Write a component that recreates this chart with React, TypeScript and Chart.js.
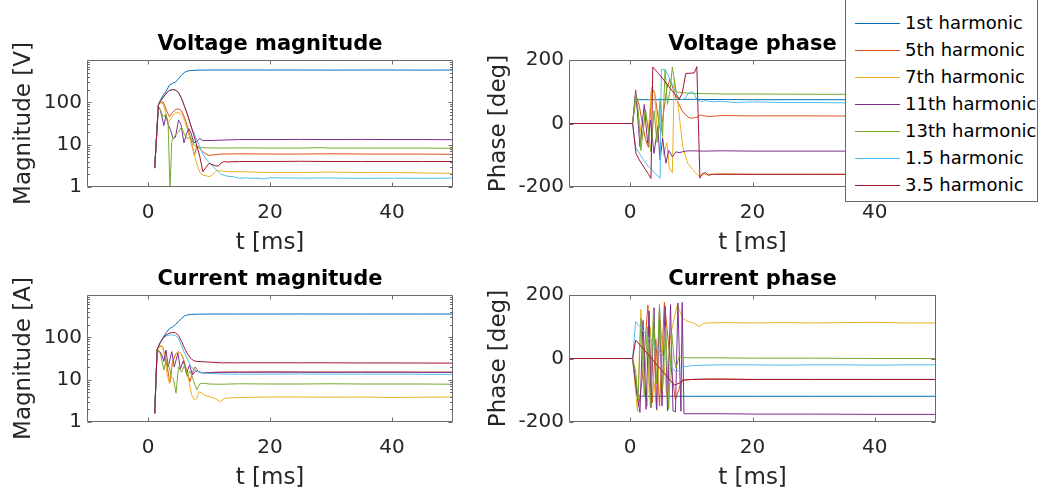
import React, { useEffect, useRef } from 'react';
import { Chart, registerables } from 'chart.js';

Chart.register(...registerables);

type Pt = [number, number];

// ---------- labels / ticks ----------
const SERIES_NAMES = ['1st harmonic', '5th harmonic', '7th harmonic', '11th harmonic', '13th harmonic', '1.5 harmonic', '3.5 harmonic'];
const SERIES_COLORS = ['#0072BD', '#D95319', '#EDB120', '#7E2F8E', '#77AC30', '#4DBEEE', '#A2142F'];
const X_TICKS = [0, 20, 40];
const MAG_TICKS = [1, 10, 100];
const PHASE_TICKS = [-200, 0, 200];

// ---------- Voltage magnitude [V] (t in ms, value) ----------
const VMAG_1: Pt[] = [[1.1, 2.8], [1.7, 88], [2.0, 110], [2.5, 150], [3.0, 185], [3.5, 255], [4.0, 280], [4.5, 300], [5.0, 360], [5.5, 440], [6.0, 510], [6.5, 550], [7.0, 565], [8.0, 575], [10, 580], [15, 580], [20, 580], [25, 580], [30, 578], [35, 580], [40, 580], [45, 578], [50, 580]];
const VMAG_5: Pt[] = [[1.1, 2.8], [1.7, 88], [2.0, 100], [2.5, 102], [3.0, 66], [3.5, 46], [4.0, 57], [4.5, 68], [5.0, 70], [5.5, 63], [6.0, 44], [6.5, 26], [7.0, 14], [7.6, 5.5], [8.0, 9.5], [8.5, 8], [9.0, 6.8], [9.5, 6.0], [10, 5.6], [11, 5.8], [12, 6.0], [15, 6.1], [20, 6.0], [25, 6.0], [30, 6.1], [35, 6.0], [40, 6.0], [45, 6.0], [50, 5.9]];
const VMAG_7: Pt[] = [[1.1, 2.8], [1.7, 88], [2.0, 97], [2.5, 92], [3.0, 50], [3.3, 33], [3.6, 38], [4.0, 48], [4.5, 56], [5.0, 57], [5.5, 52], [6.0, 38], [6.5, 22], [7.0, 12], [7.5, 6.5], [8.0, 3.5], [8.5, 2.2], [9.0, 1.9], [9.5, 1.85], [10.0, 1.75], [10.5, 1.9], [11.0, 2.3], [11.5, 2.5], [12.0, 2.4], [13, 2.3], [15, 2.3], [20, 2.2], [25, 2.2], [30, 2.25], [35, 2.2], [40, 2.2], [45, 2.15], [50, 2.1]];
const VMAG_11: Pt[] = [[1.1, 2.8], [1.7, 80], [2.0, 68], [2.3, 45], [2.6, 28], [2.95, 50], [3.3, 30], [3.7, 22], [4.1, 14], [4.5, 15], [5.0, 38], [5.4, 30], [5.9, 11], [6.3, 18], [6.7, 24], [7.1, 18], [7.5, 11], [8.0, 12], [8.5, 14], [9.0, 12.5], [10, 12.5], [12, 12.8], [15, 13.2], [20, 13.2], [25, 13.3], [30, 13.2], [35, 13.3], [40, 13.2], [45, 13.2], [50, 13.1]];
const VMAG_13: Pt[] = [[1.1, 2.8], [1.7, 80], [2.0, 66], [2.5, 45], [2.9, 52], [3.3, 30], [3.6, 0.9], [3.9, 12], [4.5, 17], [5.0, 20], [5.5, 26], [6.0, 17], [6.5, 14], [7.0, 15], [7.5, 10], [8.0, 9], [8.5, 8.6], [9.5, 8.4], [12, 8.3], [15, 8.4], [20, 8.3], [25, 8.3], [28, 8.5], [30, 8.3], [35, 8.3], [40, 8.3], [45, 8.3], [50, 8.2]];
const VMAG_15: Pt[] = [[1.1, 2.8], [1.7, 85], [2.0, 105], [2.5, 130], [3.0, 165], [3.5, 190], [4.0, 200], [4.5, 195], [5.0, 170], [5.5, 124], [6.0, 79], [6.5, 50], [7.0, 29], [7.5, 19], [8.0, 13], [8.5, 9], [9.0, 6], [9.5, 4.6], [10, 3.8], [10.5, 3.3], [11, 2.7], [11.5, 2.3], [12, 2.0], [12.5, 1.9], [13, 1.8], [14, 1.75], [15, 1.6], [16, 1.65], [17, 1.6], [18, 1.62], [19, 1.55], [20, 1.65], [25, 1.62], [30, 1.63], [35, 1.6], [40, 1.62], [45, 1.6], [50, 1.62]];
const VMAG_35: Pt[] = [[1.1, 2.8], [1.7, 85], [2.0, 105], [2.5, 130], [3.0, 165], [3.5, 190], [4.0, 200], [4.5, 195], [5.0, 170], [5.5, 124], [6.0, 79], [6.5, 50], [7.0, 29], [7.5, 17], [8.0, 9.5], [8.5, 5.2], [9.0, 2.3], [9.5, 2.9], [10.0, 3.6], [10.5, 3.4], [11.0, 3.2], [11.5, 3.1], [12.0, 3.7], [12.5, 4.0], [13, 3.9], [15, 4.0], [20, 4.0], [25, 4.05], [30, 4.0], [35, 4.0], [40, 4.0], [45, 4.0], [50, 4.0]];

// ---------- Voltage phase [deg] ----------
const VPH_1: Pt[] = [[-10, 0], [0.4, 0], [0.9, 75], [3, 75], [10, 76], [20, 75], [30, 75], [40, 75], [50, 75]];
const VPH_5: Pt[] = [[-10, 0], [0.4, 0], [0.9, 95], [1.5, 55], [2.0, 0], [2.5, -50], [3.0, -75], [3.5, 110], [4.0, 95], [4.5, 30], [5.0, -30], [5.5, 40], [6.0, 110], [6.5, 140], [7.0, 110], [7.5, 80], [8.0, 60], [8.5, 40], [9.0, 28], [9.5, 20], [10, 17], [10.5, 18], [11, 20], [11.5, 27], [12, 24], [13, 22], [15, 25], [20, 24], [25, 24], [30, 24], [40, 23], [50, 22]];
const VPH_7: Pt[] = [[-10, 0], [0.4, 0], [0.9, 80], [1.4, 20], [2.0, -52], [2.5, 40], [3.0, -20], [3.5, 115], [4.0, 100], [4.5, -47], [5.0, 60], [5.5, -100], [6.0, -60], [6.4, -140], [6.9, -155], [7.2, 140], [7.8, 63], [8.6, -73], [9.4, -125], [10.2, -145], [11.3, -167], [12, -158], [12.5, -162], [13, -160], [15, -158], [20, -160], [30, -160], [40, -160], [50, -160]];
const VPH_11: Pt[] = [[-10, 0], [0.4, 0], [0.9, 105], [1.6, -73], [2.3, 60], [2.85, -62], [3.3, 10], [3.9, -94], [4.5, -10], [4.9, -115], [5.3, -47], [5.85, -125], [6.3, -85], [6.9, -105], [7.5, -89], [8.0, -92], [9, -87], [10, -86], [12, -87], [15, -86], [20, -87], [30, -87], [40, -87], [50, -87]];
const VPH_13: Pt[] = [[-10, 0], [0.4, 0], [0.9, 95], [1.3, 42], [1.75, -85], [2.5, 45], [3.0, -30], [3.4, -89], [3.9, 40], [4.4, -60], [4.9, 80], [5.3, -40], [5.7, 170], [6.1, 60], [6.5, 100], [6.9, 178], [7.5, 100], [8.0, 98], [9, 96], [10, 95], [12, 94], [15, 93], [20, 93], [30, 92], [40, 92], [50, 92]];
const VPH_15: Pt[] = [[-10, 0], [0.4, 0], [0.9, -75], [2, -110], [3, -135], [4, -155], [4.9, -173], [5.1, 171], [5.8, 168], [6.5, 140], [7.2, 110], [7.8, 85], [8.4, 74], [9.0, 80], [9.5, 95], [10.0, 100], [10.4, 96], [10.9, 76], [11.5, 70], [12.5, 72], [13.5, 68], [15, 70], [17, 66], [20, 68], [25, 66], [30, 66], [35, 65], [40, 64], [50, 63]];
const VPH_35: Pt[] = [[-10, 0], [0.4, 0], [0.95, -94], [1.5, -115], [2.0, -130], [2.5, -145], [3.0, -160], [3.4, -173], [3.7, 178], [4.5, 160], [5.5, 137], [6.5, 112], [7.5, 88], [8.0, 76], [8.5, 95], [9.1, 158], [9.8, 158], [10.5, 160], [10.9, 179], [11.4, -172], [11.8, -158], [12.3, -155], [12.8, -163], [13.5, -160], [15, -160], [20, -160], [30, -160], [40, -160], [50, -160]];

// ---------- Current magnitude [A] ----------
const IMAG_1: Pt[] = [[1.1, 1.6], [1.5, 52], [2.0, 75], [2.5, 100], [3.0, 130], [3.5, 160], [4.0, 175], [4.5, 200], [5.0, 235], [5.5, 280], [6.0, 320], [6.5, 340], [7.0, 348], [8.0, 352], [10, 355], [15, 355], [20, 355], [25, 356], [30, 355], [35, 355], [40, 355], [45, 355], [50, 355]];
const IMAG_5: Pt[] = [[1.1, 1.6], [1.5, 52], [2.0, 62], [2.4, 60], [2.8, 35], [3.2, 18], [3.6, 8.5], [4.0, 25], [4.5, 40], [5.0, 46], [5.5, 40], [6.0, 25], [6.5, 14], [6.9, 9], [7.3, 15], [7.7, 20], [8.2, 16], [8.6, 14.5], [9.5, 14.5], [11, 15], [13, 15.2], [15, 15.2], [20, 15.3], [25, 15.2], [30, 15.2], [35, 15.2], [40, 15.2], [45, 15.1], [50, 15.1]];
const IMAG_7: Pt[] = [[1.1, 1.6], [1.5, 52], [2.0, 64], [2.3, 62], [2.7, 40], [3.1, 14], [3.5, 8.2], [3.8, 18], [4.2, 32], [4.7, 42], [5.2, 44], [5.6, 38], [6.0, 25], [6.4, 15], [6.8, 8], [7.2, 4.2], [7.6, 3.4], [8.0, 3.6], [8.4, 5.2], [8.8, 4.8], [9.2, 4.3], [10, 4.0], [11, 3.6], [11.8, 3.0], [12.5, 3.6], [13.5, 3.7], [15, 3.8], [20, 3.9], [25, 3.9], [30, 3.85], [35, 3.9], [40, 3.8], [45, 3.85], [50, 3.9]];
const IMAG_11: Pt[] = [[1.1, 1.6], [1.5, 52], [2.0, 45], [2.3, 38], [2.6, 27], [2.95, 50], [3.3, 20], [3.9, 46], [4.3, 20], [4.9, 42], [5.3, 18], [5.8, 28], [6.3, 14], [6.8, 22], [7.3, 13], [7.8, 16], [8.3, 15.5], [9, 14.5], [10, 14.6], [12, 14.8], [15, 15], [20, 15], [25, 15], [30, 14.9], [35, 15], [40, 15], [45, 14.9], [50, 14.9]];
const IMAG_13: Pt[] = [[1.1, 1.6], [1.5, 52], [2.0, 42], [2.3, 28], [2.6, 17], [3.0, 30], [3.4, 22], [3.8, 12], [4.2, 10], [4.6, 4.8], [5.0, 20], [5.5, 15], [6.0, 22], [6.4, 12], [6.9, 16], [7.4, 10], [8.0, 5.8], [8.5, 8], [9.0, 8.3], [10, 7.9], [12, 7.8], [15, 8.0], [20, 7.9], [25, 7.9], [30, 8.0], [35, 7.9], [40, 7.9], [45, 7.9], [50, 7.8]];
const IMAG_15: Pt[] = [[1.1, 1.6], [1.5, 52], [2.0, 74], [2.5, 95], [3.0, 108], [3.5, 113], [4.0, 114], [4.5, 110], [5.0, 95], [5.5, 62], [6.0, 42], [6.5, 30], [7.0, 21], [7.5, 17.5], [8.0, 16], [8.5, 15], [9.5, 14.2], [11, 13.8], [13, 13.5], [15, 13.5], [20, 13.5], [25, 13.6], [30, 13.5], [35, 13.5], [40, 13.5], [45, 13.4], [50, 13.4]];
const IMAG_35: Pt[] = [[1.1, 1.6], [1.5, 52], [2.0, 75], [2.5, 98], [3.0, 115], [3.5, 125], [4.0, 130], [4.5, 128], [5.0, 110], [5.5, 80], [6.0, 55], [6.5, 40], [7.0, 32], [7.5, 28], [8.0, 27], [9, 26.5], [10, 26], [12, 25], [15, 25], [20, 25], [25, 25], [30, 25], [35, 24.8], [40, 24.8], [45, 24.7], [50, 24.6]];

// ---------- Current phase [deg] ----------
const IPH_1: Pt[] = [[-10, 0], [0.4, 0], [1.2, -117], [2, -119], [10, -119], [20, -119], [30, -119], [40, -119], [50, -119]];
const IPH_5: Pt[] = [[-10, 0], [0.4, 0], [0.9, -80], [1.4, -150], [2.0, -60], [2.9, 168], [3.6, -140], [4.2, 60], [4.8, -150], [5.6, 178], [6.3, 40], [6.9, -60], [7.4, -130], [8.0, -95], [8.5, -68], [10, -66], [15, -65], [20, -66], [30, -66], [40, -66], [50, -66]];
const IPH_7: Pt[] = [[-10, 0], [0.4, 0], [1.2, -168], [1.75, 155], [2.3, -30], [2.8, -150], [3.3, 100], [3.8, -60], [4.4, -165], [4.9, 120], [5.4, 10], [6.0, -120], [6.5, 60], [7.0, 110], [7.7, 168], [8.0, 155], [8.6, 127], [9.3, 118], [10, 114], [10.7, 108], [11.3, 100], [12, 111], [13, 112], [15, 113], [20, 112], [25, 113], [30, 112], [35, 113], [40, 114], [45, 112], [50, 112]];
const IPH_11: Pt[] = [[-10, 0], [0.4, 0], [1.0, -100], [1.6, -170], [2.1, 120], [2.6, -160], [3.1, 150], [3.4, -155], [3.9, 160], [4.3, -160], [4.8, 160], [5.2, -150], [5.7, 165], [6.1, -165], [6.6, 170], [7.0, -165], [7.4, -168], [7.8, 175], [8.3, -166], [8.5, 177], [8.8, -174], [10, -174], [15, -174], [20, -175], [30, -175], [40, -176], [50, -176]];
const IPH_13: Pt[] = [[-10, 0], [0.4, 0], [0.9, -40], [1.3, -130], [1.75, 127], [2.3, -120], [2.8, 100], [3.3, -150], [3.8, 150], [4.3, -80], [4.8, 170], [5.3, -100], [5.8, 100], [6.3, -160], [6.8, 80], [7.2, -5], [7.5, -30], [8.0, 6], [8.5, 3], [10, 2], [15, 2], [20, 1], [30, 1], [40, 0], [50, 0]];
const IPH_15: Pt[] = [[-10, 0], [0.4, 0], [0.9, 116], [1.5, 102], [2.5, 78], [3.5, 53], [4.5, 29], [5.5, 4], [6.5, -20], [7.5, -44], [8.0, -36], [8.8, -26], [9.5, -24], [10.5, -22], [12, -21], [15, -20], [20, -20], [25, -21], [30, -20], [35, -20], [40, -21], [45, -20], [50, -20]];
const IPH_35: Pt[] = [[-10, 0], [0.4, 0], [0.9, 58], [2, 34], [3, 11], [4, -11], [5, -34], [6, -56], [7.2, -84], [8.0, -78], [8.8, -68], [10, -66], [12, -65], [15, -65], [20, -66], [30, -66], [40, -66], [50, -66]];

// ---------- styling ----------
const FONT = '"DejaVu Sans", "Liberation Sans", sans-serif';
const TEXT_COLOR = '#262626';
const AXIS_COLOR = '#6a6a6a';
const TICK_FONT = 20;
const LABEL_FONT = 23;
const TITLE_FONT = 21;
const Y_SCALE_W = 60;
const X_SCALE_H = 40;

interface Box { left: number; top: number; width: number; height: number }
interface Area { left: number; top: number; right: number; bottom: number }
interface PanelCfg {
  title: string;
  ylabel: string;
  series: Pt[][];
  log: boolean;
  yMin: number;
  yMax: number;
  yTicks: number[];
  canvas: Box;
  area: Area;
  ylabelOffset: number;
}

const PANELS: PanelCfg[] = [
  {
    title: 'Voltage magnitude', ylabel: 'Magnitude [V]',
    series: [VMAG_1, VMAG_5, VMAG_7, VMAG_11, VMAG_13, VMAG_15, VMAG_35],
    log: true, yMin: 1, yMax: 1000, yTicks: MAG_TICKS,
    canvas: { left: 0, top: 0, width: 470, height: 260 },
    area: { left: 87, top: 60, right: 453, bottom: 187 },
    ylabelOffset: 57,
  },
  {
    title: 'Voltage phase', ylabel: 'Phase [deg]',
    series: [VPH_1, VPH_5, VPH_7, VPH_11, VPH_13, VPH_15, VPH_35],
    log: false, yMin: -200, yMax: 200, yTicks: PHASE_TICKS,
    canvas: { left: 470, top: 0, width: 568, height: 260 },
    area: { left: 569, top: 60, right: 936, bottom: 187 },
    ylabelOffset: 64,
  },
  {
    title: 'Current magnitude', ylabel: 'Magnitude [A]',
    series: [IMAG_1, IMAG_5, IMAG_7, IMAG_11, IMAG_13, IMAG_15, IMAG_35],
    log: true, yMin: 1, yMax: 1000, yTicks: MAG_TICKS,
    canvas: { left: 0, top: 260, width: 470, height: 234 },
    area: { left: 87, top: 295, right: 453, bottom: 422 },
    ylabelOffset: 57,
  },
  {
    title: 'Current phase', ylabel: 'Phase [deg]',
    series: [IPH_1, IPH_5, IPH_7, IPH_11, IPH_13, IPH_15, IPH_35],
    log: false, yMin: -200, yMax: 200, yTicks: PHASE_TICKS,
    canvas: { left: 470, top: 260, width: 568, height: 234 },
    area: { left: 569, top: 295, right: 936, bottom: 422 },
    ylabelOffset: 64,
  },
];

function framePlugin(p: PanelCfg) {
  return {
    id: 'matlabFrame',
    afterDraw(chart: any) {
      const { ctx, chartArea: ca, scales } = chart;
      const xs = scales.x;
      const ys = scales.y;
      const L = Math.round(ca.left) + 0.5;
      const R = Math.round(ca.right) - 0.5;
      const T = Math.round(ca.top) + 0.5;
      const B = Math.round(ca.bottom) - 0.5;
      const major = 4;
      const minor = 2.5;
      ctx.save();
      ctx.strokeStyle = AXIS_COLOR;
      ctx.lineWidth = 1;
      ctx.beginPath();
      ctx.rect(L, T, R - L, B - T);
      for (const v of X_TICKS) {
        const x = Math.round(xs.getPixelForValue(v)) + 0.5;
        ctx.moveTo(x, B); ctx.lineTo(x, B - major);
        ctx.moveTo(x, T); ctx.lineTo(x, T + major);
      }
      for (const v of p.yTicks) {
        const y = Math.round(ys.getPixelForValue(v)) + 0.5;
        ctx.moveTo(L, y); ctx.lineTo(L + major, y);
        ctx.moveTo(R, y); ctx.lineTo(R - major, y);
      }
      if (p.log) {
        for (let d = p.yMin; d < p.yMax; d *= 10) {
          for (let m = 2; m <= 9; m++) {
            const y = Math.round(ys.getPixelForValue(m * d)) + 0.5;
            ctx.moveTo(L, y); ctx.lineTo(L + minor, y);
            ctx.moveTo(R, y); ctx.lineTo(R - minor, y);
          }
        }
      }
      ctx.stroke();

      const cx = (ca.left + ca.right) / 2;
      const cy = (ca.top + ca.bottom) / 2;
      ctx.textAlign = 'center';
      ctx.textBaseline = 'alphabetic';
      ctx.fillStyle = '#000000';
      ctx.font = `bold ${TITLE_FONT}px ${FONT}`;
      ctx.fillText(p.title, cx, ca.top - 10);

      ctx.fillStyle = TEXT_COLOR;
      ctx.font = `${LABEL_FONT}px ${FONT}`;
      ctx.fillText('t [ms]', cx, ca.bottom + 62);

      ctx.translate(ca.left - p.ylabelOffset, cy);
      ctx.rotate(-Math.PI / 2);
      ctx.fillText(p.ylabel, 0, 0);
      ctx.restore();
    },
  };
}

function Panel({ p }: { p: PanelCfg }) {
  const ref = useRef<HTMLCanvasElement | null>(null);
  useEffect(() => {
    if (!ref.current) return;
    const c = p.canvas;
    const a = p.area;
    const chart = new Chart(ref.current, {
      type: 'line',
      data: {
        datasets: p.series.map((s, i) => ({
          label: SERIES_NAMES[i],
          data: s.map(([x, y]) => ({ x, y })),
          borderColor: SERIES_COLORS[i],
          backgroundColor: SERIES_COLORS[i],
          borderWidth: 1,
          pointRadius: 0,
          pointHoverRadius: 0,
          tension: 0,
          fill: false,
          order: SERIES_NAMES.length - 1 - i,
        })),
      },
      options: {
        responsive: false,
        animation: false,
        events: [],
        layout: {
          padding: {
            left: a.left - c.left - Y_SCALE_W,
            top: a.top - c.top,
            right: c.left + c.width - a.right,
            bottom: c.height - (a.bottom - c.top) - X_SCALE_H,
          },
        },
        plugins: {
          legend: { display: false },
          tooltip: { enabled: false },
          title: { display: false },
        },
        scales: {
          x: {
            type: 'linear',
            min: -10,
            max: 50,
            grid: { display: false, drawTicks: false },
            border: { display: false },
            ticks: {
              color: TEXT_COLOR,
              font: { family: FONT, size: TICK_FONT },
              padding: 14,
              maxRotation: 0,
              autoSkip: false,
              callback: (v: any) => String(v),
            },
            afterBuildTicks: (s: any) => { s.ticks = X_TICKS.map((v) => ({ value: v })); },
            afterFit: (s: any) => { s.height = X_SCALE_H; },
          },
          y: {
            type: p.log ? 'logarithmic' : 'linear',
            min: p.yMin,
            max: p.yMax,
            grid: { display: false, drawTicks: false },
            border: { display: false },
            ticks: {
              color: TEXT_COLOR,
              font: { family: FONT, size: TICK_FONT },
              padding: 5,
              autoSkip: false,
              callback: (v: any) => String(v),
            },
            afterBuildTicks: (s: any) => { s.ticks = p.yTicks.map((v) => ({ value: v })); },
            afterFit: (s: any) => { s.width = Y_SCALE_W; },
          },
        },
      } as any,
      plugins: [framePlugin(p)],
    });
    return () => chart.destroy();
  }, [p]);
  const c = p.canvas;
  return (
    <canvas
      ref={ref}
      width={c.width}
      height={c.height}
      style={{ position: 'absolute', left: c.left, top: c.top, width: c.width, height: c.height, display: 'block' }}
    />
  );
}

function Legend() {
  // legend box: page x 845..1037, y -2..201 ; content origin at page (846, -1)
  return (
    <div
      style={{
        position: 'absolute', left: 845, top: -2, width: 193, height: 204, boxSizing: 'border-box',
        border: `1px solid ${AXIS_COLOR}`, background: '#ffffff', zIndex: 2,
        fontFamily: FONT, fontSize: 18, color: '#000000',
      }}
    >
      {SERIES_NAMES.map((name, i) => (
        <React.Fragment key={name}>
          <div
            style={{ position: 'absolute', left: 9, top: 24 + 27 * i, width: 45, height: 1, background: SERIES_COLORS[i] }}
          />
          <div
            style={{ position: 'absolute', left: 59, top: 24 + 27 * i - 12, height: 24, lineHeight: '24px', whiteSpace: 'nowrap' }}
          >
            {name}
          </div>
        </React.Fragment>
      ))}
    </div>
  );
}

export default function App() {
  return (
    <div style={{ position: 'absolute', left: 0, top: 0, width: 1038, height: 494, background: '#ffffff', overflow: 'hidden' }}>
      {PANELS.map((p) => <Panel key={p.title} p={p} />)}
      <Legend />
    </div>
  );
}
